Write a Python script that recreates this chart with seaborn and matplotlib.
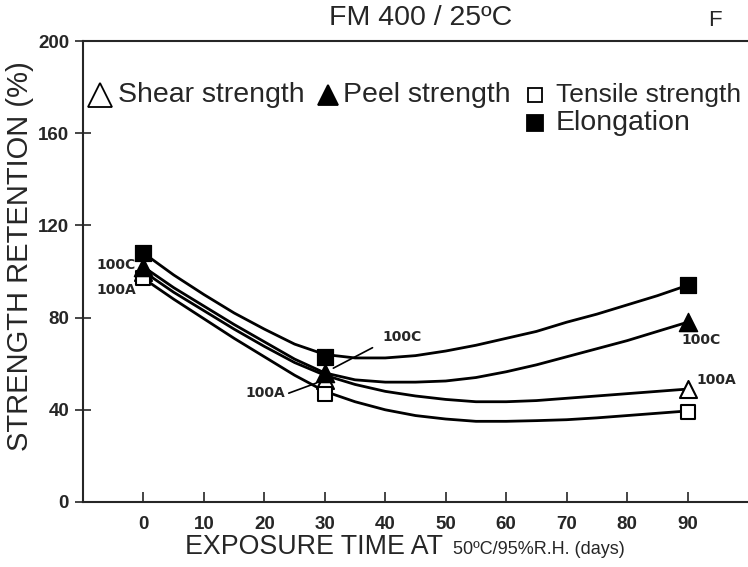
import numpy as np
import pandas as pd
import matplotlib
matplotlib.use("Agg")
import matplotlib.pyplot as plt
from matplotlib.lines import Line2D
import seaborn as sns

# measured points
days = [0, 30, 90]
shear = [100, 53, 49]
peel = [102, 56, 78]
tensile = [97, 47, 39]
elongation = [108, 63, 94]

# hand-drawn smooth curves
curve_days = [0, 5, 10, 15, 20, 25, 30, 35, 40, 45, 50, 55, 60, 65, 70, 75, 80, 85, 90]
curve_elong = [108, 98.5, 90, 82, 75, 68.5, 64, 62.5, 62.5, 63.5, 65.5, 68, 71, 74, 78, 81.5, 85.5, 89.5, 94]
curve_peel = [102, 93, 85, 77, 69.5, 62, 56, 53, 52, 52, 52.5, 54, 56.5, 59.5, 63, 66.5, 70, 74, 78]
curve_shear = [100, 91, 83, 75, 67.5, 60.5, 55, 51, 48, 46, 44.5, 43.5, 43.5, 44, 45, 46, 47, 48, 49]
curve_tensile = [97, 88, 79.5, 71, 63, 55, 48, 43.5, 40, 37.5, 36, 35, 35, 35.3, 35.7, 36.5, 37.5, 38.5, 39.5]

x_ticks = [0, 10, 20, 30, 40, 50, 60, 70, 80, 90]
y_ticks = [0, 40, 80, 120, 160, 200]

sns.set_style("ticks")
plt.rcParams['font.family'] = ['Liberation Sans', 'DejaVu Sans']

fig = plt.figure(figsize=(7.48, 5.67), dpi=100)
ax = fig.add_axes([83/748, 65/567, 1 - 83/748, (502-41)/567])

curves = pd.DataFrame({
    "day": curve_days * 4,
    "value": curve_elong + curve_peel + curve_shear + curve_tensile,
    "series": (["Elongation"] * len(curve_days) + ["Peel"] * len(curve_days)
               + ["Shear"] * len(curve_days) + ["Tensile"] * len(curve_days)),
})
sns.lineplot(data=curves, x="day", y="value", units="series", estimator=None,
             color="black", lw=2.0, ax=ax, legend=False)

pts = pd.DataFrame({"day": days, "shear": shear, "peel": peel,
                    "tensile": tensile, "elong": elongation})
sns.scatterplot(data=pts, x="day", y="elong", marker="s", s=120, color="black",
                edgecolor="black", ax=ax, zorder=5)
sns.scatterplot(data=pts, x="day", y="peel", marker="^", s=170, color="black",
                edgecolor="black", ax=ax, zorder=5)
sns.scatterplot(data=pts, x="day", y="shear", marker="^", s=150, facecolor="white",
                edgecolor="black", linewidth=1.5, ax=ax, zorder=4)
sns.scatterplot(data=pts, x="day", y="tensile", marker="s", s=100, facecolor="white",
                edgecolor="black", linewidth=1.5, ax=ax, zorder=4)

ax.set_xlim(-10, 100)
ax.set_ylim(0, 200)
ax.set_xticks(x_ticks)
ax.set_yticks(y_ticks)
ax.set_xticklabels([str(t) for t in x_ticks], fontsize=13.5, fontweight="bold")
ax.set_yticklabels([str(t) for t in y_ticks], fontsize=13.5, fontweight="bold")
ax.tick_params(axis="x", direction="in", length=7, width=1.2, pad=10)
ax.tick_params(axis="y", direction="inout", length=12, width=1.2, pad=4)
for s in ["left", "bottom", "top"]:
    ax.spines[s].set_visible(True)
    ax.spines[s].set_linewidth(1.5)
ax.spines["right"].set_visible(False)
ax.set_xlabel("")
ax.set_ylabel("")

# axis labels
fig.text(20/748, 1 - 256/567, "STRENGTH RETENTION (%)", rotation=90,
         ha="center", va="center", fontsize=21)
fig.text(443/748, 1 - 547/567, "EXPOSURE TIME AT", ha="right", va="center", fontsize=19.3)
fig.text(453/748, 1 - 549/567, "50ºC/95%R.H. (days)", ha="left", va="center", fontsize=13)

# title
fig.text(421/748, 1 - 18/567, "FM 400 / 25ºC", ha="center", va="center", fontsize=20.5)
fig.text(715/748, 1 - 21/567, "F", ha="center", va="center", fontsize=16)

# legend as text with marker symbols
ly = 1 - 95/567
ly2 = 1 - 123/567
for (sx, sy, mk, fc, ms) in [(100, ly, "^", "white", 17), (327.5, ly, "^", "black", 14),
                             (534.5, ly, "s", "white", 10), (534.5, ly2, "s", "black", 11)]:
    fig.add_artist(Line2D([sx/748], [sy], marker=mk, markersize=ms,
                          markerfacecolor=fc, markeredgecolor="black",
                          markeredgewidth=1.3, linestyle="none",
                          transform=fig.transFigure))
fig.text(118/748, ly, "Shear strength", ha="left", va="center", fontsize=20.5)
fig.text(343/748, ly, "Peel strength", ha="left", va="center", fontsize=20.5)
fig.text(556/748, ly, "Tensile strength", ha="left", va="center", fontsize=19)
fig.text(556/748, ly2, "Elongation", ha="left", va="center", fontsize=20.5)

# labels
lab = dict(fontsize=10, fontweight="bold", family=["DejaVu Sans"])
ax.text(-7.7, 103, "100C", ha="left", va="center", **lab)
ax.text(-7.7, 92, "100A", ha="left", va="center", **lab)
ax.text(39.5, 71.5, "100C", ha="left", va="center", **lab)
ax.annotate("", xy=(31, 57.5), xytext=(38.3, 67.5),
            arrowprops=dict(arrowstyle="-", lw=1.2, color="black"))
ax.text(23.4, 47.4, "100A", ha="right", va="center", **lab)
ax.annotate("", xy=(29, 52), xytext=(23.6, 46.8),
            arrowprops=dict(arrowstyle="-", lw=1.2, color="black"))
ax.text(89, 70.4, "100C", ha="left", va="center", **lab)
ax.text(91.5, 53, "100A", ha="left", va="center", **lab)

fig.savefig("out.png", dpi=100)
